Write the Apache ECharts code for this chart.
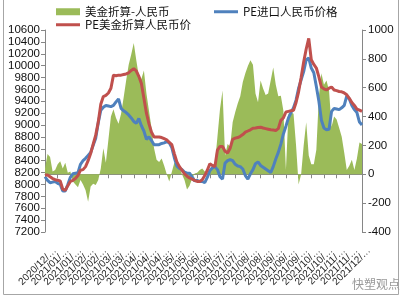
<!DOCTYPE html>
<html><head><meta charset="utf-8">
<script src="https://cdn.jsdelivr.net/npm/echarts@6/dist/echarts.min.js"></script>
<style>html,body{margin:0;padding:0;background:#fff}#c{width:404px;height:303px}</style>
</head><body><div id="c"></div>
<script>
// Tick labels of the date axis (truncated as in the original)
const tickLabels = ['2020/12/…','2021/01/…','2021/01/…','2021/02/…','2021/02/…','2021/03/…','2021/03/…','2021/04/…','2021/04/…','2021/04/…','2021/05/…','2021/05/…','2021/06/…','2021/06/…','2021/07/…','2021/07/…','2021/08/…','2021/08/…','2021/09/…','2021/09/…','2021/09/…','2021/10/…','2021/10/…','2021/11/…','2021/11/…','2021/12/…'];
const seriesNames = ['美金折算-人民币','PE进口人民币价格','PE美金折算人民币价'];
// Green area (right axis)
const usdRmbDiff = [40,140,120,20,30,70,90,40,80,10,
 20,-50,-70,-90,-40,-70,-110,-190,-85,-65,
 -75,-40,40,180,80,240,400,450,390,350,
 420,530,650,760,830,910,790,680,660,720,
 560,440,320,180,100,85,110,60,0,-50,
 15,80,75,50,0,-40,-105,-80,-30,5,
 10,30,40,20,10,10,40,75,260,450,
 580,130,210,190,360,430,490,540,640,700,
 750,790,760,560,500,650,595,550,560,650,
 740,620,540,545,440,30,420,430,420,200,
 -70,0,200,360,130,70,70,170,540,700,
 620,650,580,330,400,380,320,260,150,30,
 60,100,30,110,220,210];
// Blue line (left axis)
const peImportRmb = [8130,8070,8030,8040,8050,8020,8000,7890,7890,8000,
 8120,8180,8190,8200,8340,8400,8440,8490,8540,8660,
 8780,9040,9250,9300,9330,9320,9310,9330,9390,9440,
 9280,9240,9210,9170,9120,9060,9030,9110,8990,8900,
 8760,8800,8740,8670,8670,8670,8690,8700,8720,8700,
 8620,8450,8310,8270,8250,8210,8190,8190,8130,8060,
 8070,8050,8050,8030,8120,8230,8280,8300,8250,8130,
 8090,8360,8400,8420,8400,8340,8310,8300,8260,8150,
 8090,8180,8250,8350,8380,8320,8290,8260,8230,8200,
 8300,8430,8540,8680,8850,8980,9120,9210,9290,9420,
 9620,9760,9900,10100,10130,9960,9880,9650,9400,9080,
 8950,8920,8930,9230,9280,9270,9260,9290,9330,9490,
 9440,9330,9260,9210,9050,9000];
// Red line (left axis)
const peUsdRmb = [8160,8160,8130,8100,8080,8070,8060,7920,7900,7980,
 8050,8070,8100,8150,8240,8250,8300,8400,8520,8680,
 8830,9050,9350,9480,9500,9540,9620,9840,9830,9840,
 9840,9850,9860,9880,9920,9950,9910,9820,9700,9450,
 9200,9020,8880,8800,8800,8800,8790,8770,8750,8710,
 8670,8520,8380,8300,8240,8180,8140,8110,8090,8070,
 8050,8050,8080,8150,8240,8350,8320,8300,8580,8640,
 8640,8560,8530,8610,8760,8780,8790,8810,8840,8880,
 8900,8920,8945,8950,8960,8965,8950,8940,8930,8920,
 8915,8910,8940,9080,9120,9220,9230,9240,9250,9380,
 9560,9800,10060,10280,10460,10100,10020,9960,9810,9640,
 9610,9590,9620,9640,9590,9580,9565,9560,9540,9510,
 9450,9380,9330,9270,9250,9230];

const idx = peUsdRmb.map((_, i) => String(i));
const numFont = '"Liberation Sans", Arial, sans-serif';
const cjkFont = '"Noto Sans CJK SC", sans-serif';
const gray = '#868686';
const cGreen = '#9bbb59', cBlue = '#4f81bd', cRed = '#c0504d';
const legendText = {fontSize: 11.5, fontFamily: cjkFont, color: '#111'};
const plain = (v) => String(v);

const chart = echarts.init(document.getElementById('c'), null, {renderer: 'canvas'});
chart.setOption({
  animation: false,
  backgroundColor: '#fff',
  grid: [
    {left: 45, right: 42, top: 30, bottom: 71},
    {left: 55, right: 35, top: 30, bottom: 71}
  ],
  legend: [
    {data: [{name: seriesNames[0], icon: 'rect'}], left: 56, top: 6, padding: 0, itemWidth: 24, itemHeight: 7, textStyle: legendText},
    {data: [{name: seriesNames[2], icon: 'rect'}], left: 56, top: 19, padding: 0, itemWidth: 24, itemHeight: 3, textStyle: legendText},
    {data: [{name: seriesNames[1], icon: 'rect'}], left: 214, top: 6, padding: 0, itemWidth: 24, itemHeight: 3, textStyle: legendText}
  ],
  xAxis: [
    {type: 'category', gridIndex: 0, data: idx, boundaryGap: false,
     axisLine: {lineStyle: {color: gray}},
     axisTick: {interval: (i) => i % 5 === 0, length: 4, lineStyle: {color: gray}},
     axisLabel: {show: false}},
    {type: 'category', gridIndex: 1, data: tickLabels, boundaryGap: false,
     axisLine: {show: false}, axisTick: {show: false},
     axisLabel: {interval: 0, rotate: 45, margin: 17, fontSize: 10, fontFamily: numFont, color: '#222'}}
  ],
  yAxis: [
    {type: 'value', gridIndex: 0, min: 7200, max: 10600, interval: 200,
     axisLine: {show: true, lineStyle: {color: gray}},
     axisTick: {show: true, length: 4, lineStyle: {color: gray}},
     splitLine: {show: false},
     axisLabel: {margin: 5, fontSize: 11.5, fontFamily: numFont, color: '#111', formatter: plain}},
    {type: 'value', gridIndex: 0, position: 'right', min: -400, max: 1000, interval: 200,
     axisLine: {show: true, lineStyle: {color: gray}},
     axisTick: {show: true, length: 4, lineStyle: {color: gray}},
     splitLine: {show: false},
     axisLabel: {margin: 6, fontSize: 11.5, fontFamily: numFont, color: '#111', formatter: plain}},
    {type: 'value', gridIndex: 1, show: false}
  ],
  series: [
    {name: seriesNames[0], type: 'line', xAxisIndex: 0, yAxisIndex: 1, data: usdRmbDiff,
     showSymbol: false, symbol: 'none', lineStyle: {width: 0}, itemStyle: {color: cGreen},
     areaStyle: {color: cGreen, opacity: 1}, z: 1},
    {name: seriesNames[1], type: 'line', xAxisIndex: 0, yAxisIndex: 0, data: peImportRmb,
     showSymbol: false, symbol: 'none', lineStyle: {width: 3, color: cBlue}, itemStyle: {color: cBlue}, z: 2},
    {name: seriesNames[2], type: 'line', xAxisIndex: 0, yAxisIndex: 0, data: peUsdRmb,
     showSymbol: false, symbol: 'none', lineStyle: {width: 3, color: cRed}, itemStyle: {color: cRed}, z: 3}
  ],
  graphic: [
    {type: 'rect', silent: true, shape: {x: 3.5, y: -2, width: 395, height: 296.5},
     style: {fill: null, stroke: '#a6a6a6', lineWidth: 1}},
    {type: 'text', left: 352, top: 278, silent: true,
     style: {text: '快塑观点', fill: '#9a9a9a', font: '12px "Noto Sans CJK SC", sans-serif'}}
  ]
});
</script>
</body></html>
